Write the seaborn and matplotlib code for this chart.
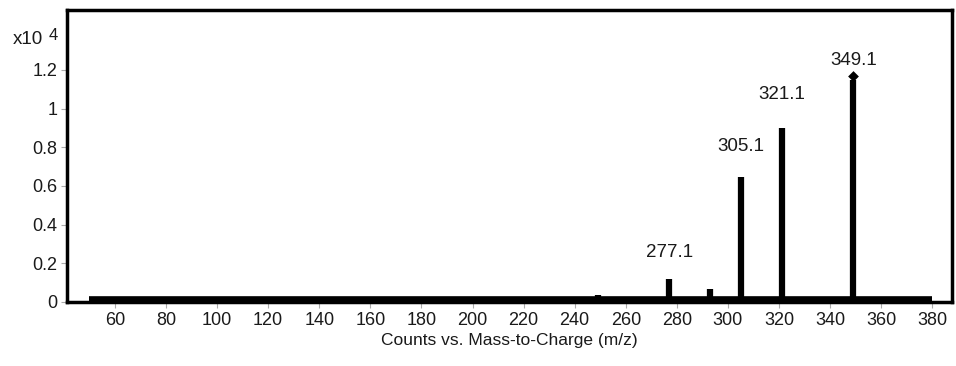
import matplotlib
matplotlib.use("Agg")
import matplotlib.pyplot as plt
import seaborn as sns
import pandas as pd

# data (intensity in units of 1e4 counts)
peak_mz = [249.0, 277.1, 293.0, 305.1, 321.1, 349.1]
peak_int = [0.035, 0.12, 0.065, 0.645, 0.90, 1.145]
label_mz = [277.1, 305.1, 321.1, 349.1]
label_text = ["277.1", "305.1", "321.1", "349.1"]
label_y = [0.255, 0.805, 1.07, 1.25]
precursor_mz = [349.1]
precursor_int = [1.17]
baseline_mz = [50, 380]
baseline_int = [0.008, 0.008]
xticks = list(range(60, 381, 20))
yticks = [0, 0.2, 0.4, 0.6, 0.8, 1.0, 1.2]
ytick_labels = ["0", "0.2", "0.4", "0.6", "0.8", "1", "1.2"]

sns.set_theme(style="white")
plt.rcParams["font.family"] = ["Liberation Sans", "DejaVu Sans"]

fig = plt.figure(figsize=(9.56, 3.66), dpi=100)
ax = fig.add_axes([0.070, 0.175, 0.926, 0.798])

base = pd.DataFrame({"mz": baseline_mz, "int": baseline_int})
sns.lineplot(data=base, x="mz", y="int", color="black", lw=5.5, ax=ax,
             solid_capstyle="butt")
ax.vlines(peak_mz, 0, peak_int, color="black", lw=4.5)
prec = pd.DataFrame({"mz": precursor_mz, "int": precursor_int})
sns.scatterplot(data=prec, x="mz", y="int", marker="D", s=30, color="black",
                ax=ax, zorder=5, linewidth=0)

for m, t, y in zip(label_mz, label_text, label_y):
    ax.text(m, y, t, ha="center", va="center", fontsize=13.5, color="#1a1a1a")

ax.set_xlim(41.2, 387.8)
ax.set_ylim(0, 1.51)
ax.set_xticks(xticks)
ax.set_yticks(yticks)
ax.set_yticklabels(ytick_labels)
ax.tick_params(axis="both", labelsize=13, colors="#1a1a1a", length=4,
               width=0.8, direction="out", bottom=True, left=True, pad=3)
ax.tick_params(axis="both", color="#aaaaaa")
for s in ax.spines.values():
    s.set_linewidth(2.5)
    s.set_color("black")
ax.set_xlabel("Counts vs. Mass-to-Charge (m/z)", fontsize=12.5, color="#1a1a1a",
              labelpad=3)
ax.set_ylabel("")

fig.text(0.0136, 0.893, "x10", fontsize=13.5, color="#1a1a1a", va="center")
fig.text(0.051, 0.902, "4", fontsize=12, color="#1a1a1a", va="center")

fig.savefig("out.png", dpi=100)
